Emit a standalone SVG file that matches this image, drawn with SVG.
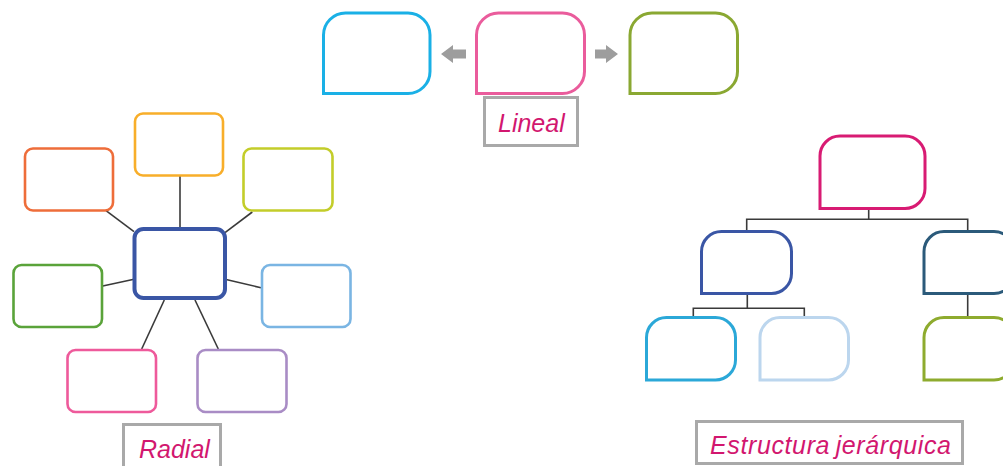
<svg xmlns="http://www.w3.org/2000/svg" width="1003" height="466" viewBox="0 0 1003 466">
<style>
.box{fill:#fff;stroke-width:3}
.rbox{fill:#fff;stroke-width:2.6}
.con{stroke:#3a3a3a;stroke-width:1.6;fill:none}
.lbl{fill:#fff;stroke:#a9a9a9;stroke-width:3}
.txt{font-family:"Liberation Sans",Arial,sans-serif;font-style:italic;font-size:25px;fill:#d2176f}
.arr{fill:#9d9d9d}
</style>
<rect width="1003" height="466" fill="#fff"/>
<g id="connectors">
<polygon class="arr" points="441,54 453,45 453,49.5 466,49.5 466,58.5 453,58.5 453,63"/>
<polygon class="arr" points="618,54 606,45 606,49.5 595,49.5 595,58.5 606,58.5 606,63"/>
<line class="con" x1="180" y1="176" x2="180" y2="228"/>
<line class="con" x1="106" y1="210.7" x2="134" y2="231.7"/>
<line class="con" x1="252.3" y1="212" x2="225" y2="232.7"/>
<line class="con" x1="102.7" y1="286" x2="134" y2="279.3"/>
<line class="con" x1="225" y1="279.3" x2="261" y2="287.7"/>
<line class="con" x1="164.3" y1="300" x2="141.7" y2="349"/>
<line class="con" x1="195" y1="300" x2="218.3" y2="349"/>
<path class="con" d="M868.7,209 V219.3 M746.7,231 V219.3 H967.7 V231"/>
<path class="con" d="M747.3,294 V308.3 M693.3,317 V308.3 H804.3 V317"/>
<line class="con" x1="967.7" y1="294" x2="967.7" y2="317"/>
</g>
<g id="lineal-left"><path class="box" stroke="#1ab0e6" d="M323.5,93.5 V35 A22,22 0 0 1 345.5,13 H408 A22,22 0 0 1 430,35 V71.5 A22,22 0 0 1 408,93.5 Z"/></g>
<g id="lineal-center"><path class="box" stroke="#ea5c9c" d="M476.5,93.5 V35 A22,22 0 0 1 498.5,13 H562.5 A22,22 0 0 1 584.5,35 V71.5 A22,22 0 0 1 562.5,93.5 Z"/></g>
<g id="lineal-right"><path class="box" stroke="#8aa832" d="M630,93.5 V35 A22,22 0 0 1 652,13 H715.5 A22,22 0 0 1 737.5,35 V71.5 A22,22 0 0 1 715.5,93.5 Z"/></g>
<g id="label-lineal"><rect class="lbl" x="484.5" y="97.5" width="93" height="48"/><text class="txt" x="498" y="131.5">Lineal</text></g>
<g id="radial-orange"><rect class="rbox" stroke="#ee6d3a" x="25" y="148.5" width="88" height="62" rx="8"/></g>
<g id="radial-top"><rect class="rbox" stroke="#f8ae2a" x="135" y="113.5" width="88" height="62" rx="8"/></g>
<g id="radial-yellowgreen"><rect class="rbox" stroke="#c3cd2a" x="243.5" y="148.5" width="89" height="62" rx="8"/></g>
<g id="radial-center"><rect fill="#fff" stroke="#3a56a5" stroke-width="4" x="134.5" y="229" width="90.5" height="69" rx="9"/></g>
<g id="radial-green"><rect class="rbox" stroke="#5aa33a" x="13.5" y="265" width="88.5" height="62" rx="8"/></g>
<g id="radial-lightblue"><rect class="rbox" stroke="#7ab5e3" x="262" y="265" width="88.5" height="62" rx="8"/></g>
<g id="radial-pink"><rect class="rbox" stroke="#ee5a9b" x="67.5" y="350" width="88.5" height="62" rx="8"/></g>
<g id="radial-purple"><rect class="rbox" stroke="#a98cc5" x="197.5" y="350" width="89" height="62" rx="8"/></g>
<g id="label-radial"><rect class="lbl" x="123.5" y="424.5" width="97" height="50"/><text class="txt" x="139" y="458">Radial</text></g>
<g id="hier-root"><path class="box" stroke="#d81b73" d="M820,208.5 V156 A20,20 0 0 1 840,136 H905 A20,20 0 0 1 925,156 V188.5 A20,20 0 0 1 905,208.5 Z"/></g>
<g id="hier-left"><path class="box" stroke="#3a56a5" d="M701.5,293.5 V251.5 A20,20 0 0 1 721.5,231.5 H771.5 A20,20 0 0 1 791.5,251.5 V273.5 A20,20 0 0 1 771.5,293.5 Z"/></g>
<g id="hier-right"><path class="box" stroke="#2b5a7a" d="M924,293.5 V251.5 A20,20 0 0 1 944,231.5 H994 A20,20 0 0 1 1014,251.5 V273.5 A20,20 0 0 1 994,293.5 Z"/></g>
<g id="hier-ll"><path class="box" stroke="#2ba8d8" d="M646.5,380 V337.5 A20,20 0 0 1 666.5,317.5 H715.5 A20,20 0 0 1 735.5,337.5 V360 A20,20 0 0 1 715.5,380 Z"/></g>
<g id="hier-lr"><path class="box" stroke="#bcd6ee" d="M760,380 V337.5 A20,20 0 0 1 780,317.5 H828.5 A20,20 0 0 1 848.5,337.5 V360 A20,20 0 0 1 828.5,380 Z"/></g>
<g id="hier-rr"><path class="box" stroke="#8eab2e" d="M924,380 V337.5 A20,20 0 0 1 944,317.5 H994 A20,20 0 0 1 1014,337.5 V360 A20,20 0 0 1 994,380 Z"/></g>
<g id="label-hier"><rect class="lbl" x="696.5" y="421.5" width="266" height="42"/><text class="txt" x="710" y="453.5" font-size="26" word-spacing="-2" textLength="241" lengthAdjust="spacing">Estructura jerárquica</text></g>
</svg>
